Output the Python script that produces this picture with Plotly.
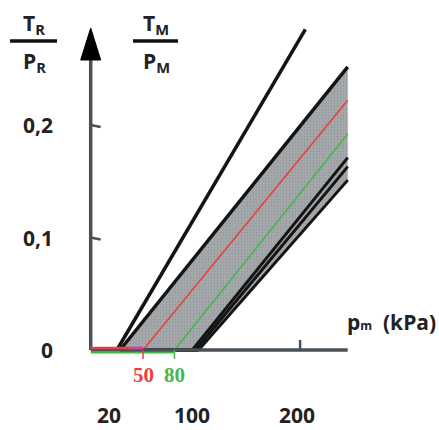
import plotly.graph_objects as go

# ---- data (kPa, ratio) ----
steep_x = [25, 205]
steep_y = [0.0, 0.285]
upper_x = [28, 245.5]
upper_y = [0.0, 0.2516]
red_x = [50, 245.5]
red_y = [0.0, 0.222]
green_x = [80, 245.5]
green_y = [0.0, 0.192]
lower_starts = [97, 100, 103]
lower_ends = [0.171, 0.163, 0.151]
x_end = 245.5
x_ticks = [20, 100, 200]
x_tick_labels = ["20", "100", "200"]
y_ticks = [0, 0.1, 0.2]
y_tick_labels = ["0", "0,1", "0,2"]
red_mark = 50
green_mark = 80

# pixel mapping used for layout ranges
PX0, PXS = 90.7, 1.047
PY0, PYS = 350.0, 1125.0
W, H = 439, 430
xr = [-PX0 / PXS, (W - PX0) / PXS]
yr = [(PY0 - H) / PYS, PY0 / PYS]
def dx(px):
    return px / PXS
def dy(px):
    return px / PYS

fig = go.Figure()

# gray band
band_x = upper_x + [x_end, x_end, lower_starts[-1]]
band_y = upper_y + [lower_ends[-1], lower_ends[-1], 0.0]
fig.add_trace(go.Scatter(x=band_x, y=band_y, fill="toself", mode="none",
                         fillcolor="#a2a5a7",
                         fillpattern=dict(shape=".", fgcolor="#868a8d", bgcolor="#a6a9ab", size=3, solidity=0.3),
                         hoverinfo="skip"))

LC = "#141414"
LW = 3.5
fig.add_trace(go.Scatter(x=steep_x, y=steep_y, mode="lines", line=dict(color=LC, width=LW)))
fig.add_trace(go.Scatter(x=upper_x, y=upper_y, mode="lines", line=dict(color=LC, width=LW)))
for s, e in zip(lower_starts, lower_ends):
    fig.add_trace(go.Scatter(x=[s, x_end], y=[0.0, e], mode="lines", line=dict(color=LC, width=3)))
# band base on the axis
fig.add_trace(go.Scatter(x=[upper_x[0], lower_starts[-1]], y=[0, 0], mode="lines",
                         line=dict(color=LC, width=4)))

# red / green lines
fig.add_trace(go.Scatter(x=red_x, y=red_y, mode="lines", line=dict(color="#e8403f", width=1.6)))
fig.add_trace(go.Scatter(x=green_x, y=green_y, mode="lines", line=dict(color="#43b84e", width=1.6)))

# axes
AC = "#4a5156"
fig.add_trace(go.Scatter(x=[0, x_end], y=[0, 0], mode="lines", line=dict(color=AC, width=3.5)))
fig.add_trace(go.Scatter(x=[0, 0], y=[0, yr[1] - dy(40)], mode="lines", line=dict(color=AC, width=3.5)))
# arrow head
tip = yr[1] - dy(28)
base = yr[1] - dy(60)
fig.add_trace(go.Scatter(x=[-dx(10), 0, dx(10), -dx(10)], y=[base, tip, base, base],
                         fill="toself", mode="lines", line=dict(color="#000", width=1),
                         fillcolor="#000"))
# y ticks
for t in y_ticks[1:]:
    fig.add_trace(go.Scatter(x=[0, dx(10)], y=[t, t - dy(2)], mode="lines", line=dict(color=AC, width=2.5)))
# x tick at 200
fig.add_trace(go.Scatter(x=[200, 200], y=[0, dy(10)], mode="lines", line=dict(color=AC, width=2.5)))

# colored bits along axis
fig.add_trace(go.Scatter(x=[0, red_mark], y=[dy(2), dy(2)], mode="lines", line=dict(color="#e8403f", width=2.5)))
fig.add_trace(go.Scatter(x=[38, red_mark], y=[dy(2), dy(2)], mode="lines", line=dict(color="#d040b0", width=2.5)))
fig.add_trace(go.Scatter(x=[0, green_mark], y=[-dy(2.5), -dy(2.5)], mode="lines", line=dict(color="#43b84e", width=2)))
fig.add_trace(go.Scatter(x=[red_mark, red_mark], y=[0, -dy(9)], mode="lines", line=dict(color="#e8403f", width=1.5)))
fig.add_trace(go.Scatter(x=[green_mark, green_mark], y=[0, -dy(9)], mode="lines", line=dict(color="#43b84e", width=1.5)))

TF = dict(family="Open Sans", size=21, color="#222", weight="bold")
ann = []
for v, lab in zip(x_ticks, x_tick_labels):
    ann.append(dict(x=v, y=-dy(65), text=lab, showarrow=False, font=TF, xshift=-3))
for v, lab in zip(y_ticks, y_tick_labels):
    ann.append(dict(x=-dx(36), y=v, text=lab, showarrow=False, font=TF, xanchor="right"))
ann.append(dict(x=red_mark, y=-dy(25), text="50", showarrow=False,
                font=dict(family="Liberation Serif", size=21, color="#e8403f", weight="bold")))
ann.append(dict(x=green_mark, y=-dy(25), text="80", showarrow=False,
                font=dict(family="Liberation Serif", size=21, color="#43b84e", weight="bold")))
# axis title
ann.append(dict(x=(W - 1 - PX0) / PXS, y=dy(28), xanchor="right",
                text="p<span style='font-size:12px'>m</span>  (kPa)", showarrow=False, font=TF))
# fractions
def frac(cx_px, num, sub):
    cx = (cx_px - PX0) / PXS
    ann.append(dict(x=cx, y=yr[1] - dy(24), text="%s<sub>%s</sub>" % (num, sub),
                    showarrow=False, font=TF))
    ann.append(dict(x=cx, y=yr[1] - dy(62), text="P<sub>%s</sub>" % sub,
                    showarrow=False, font=TF))
frac(34, "T", "R")
frac(156, "T", "M")
for x0p, x1p in [(10, 57), (133, 178)]:
    fig.add_trace(go.Scatter(x=[(x0p - PX0) / PXS, (x1p - PX0) / PXS], y=[yr[1] - dy(41)] * 2,
                             mode="lines", line=dict(color="#111", width=3.5)))

fig.update_layout(
    width=W, height=H, margin=dict(l=0, r=0, t=0, b=0),
    paper_bgcolor="white", plot_bgcolor="white", showlegend=False,
    xaxis=dict(range=xr, visible=False, fixedrange=True),
    yaxis=dict(range=yr, visible=False, fixedrange=True),
    annotations=ann,
)
fig.write_html("out.html")
